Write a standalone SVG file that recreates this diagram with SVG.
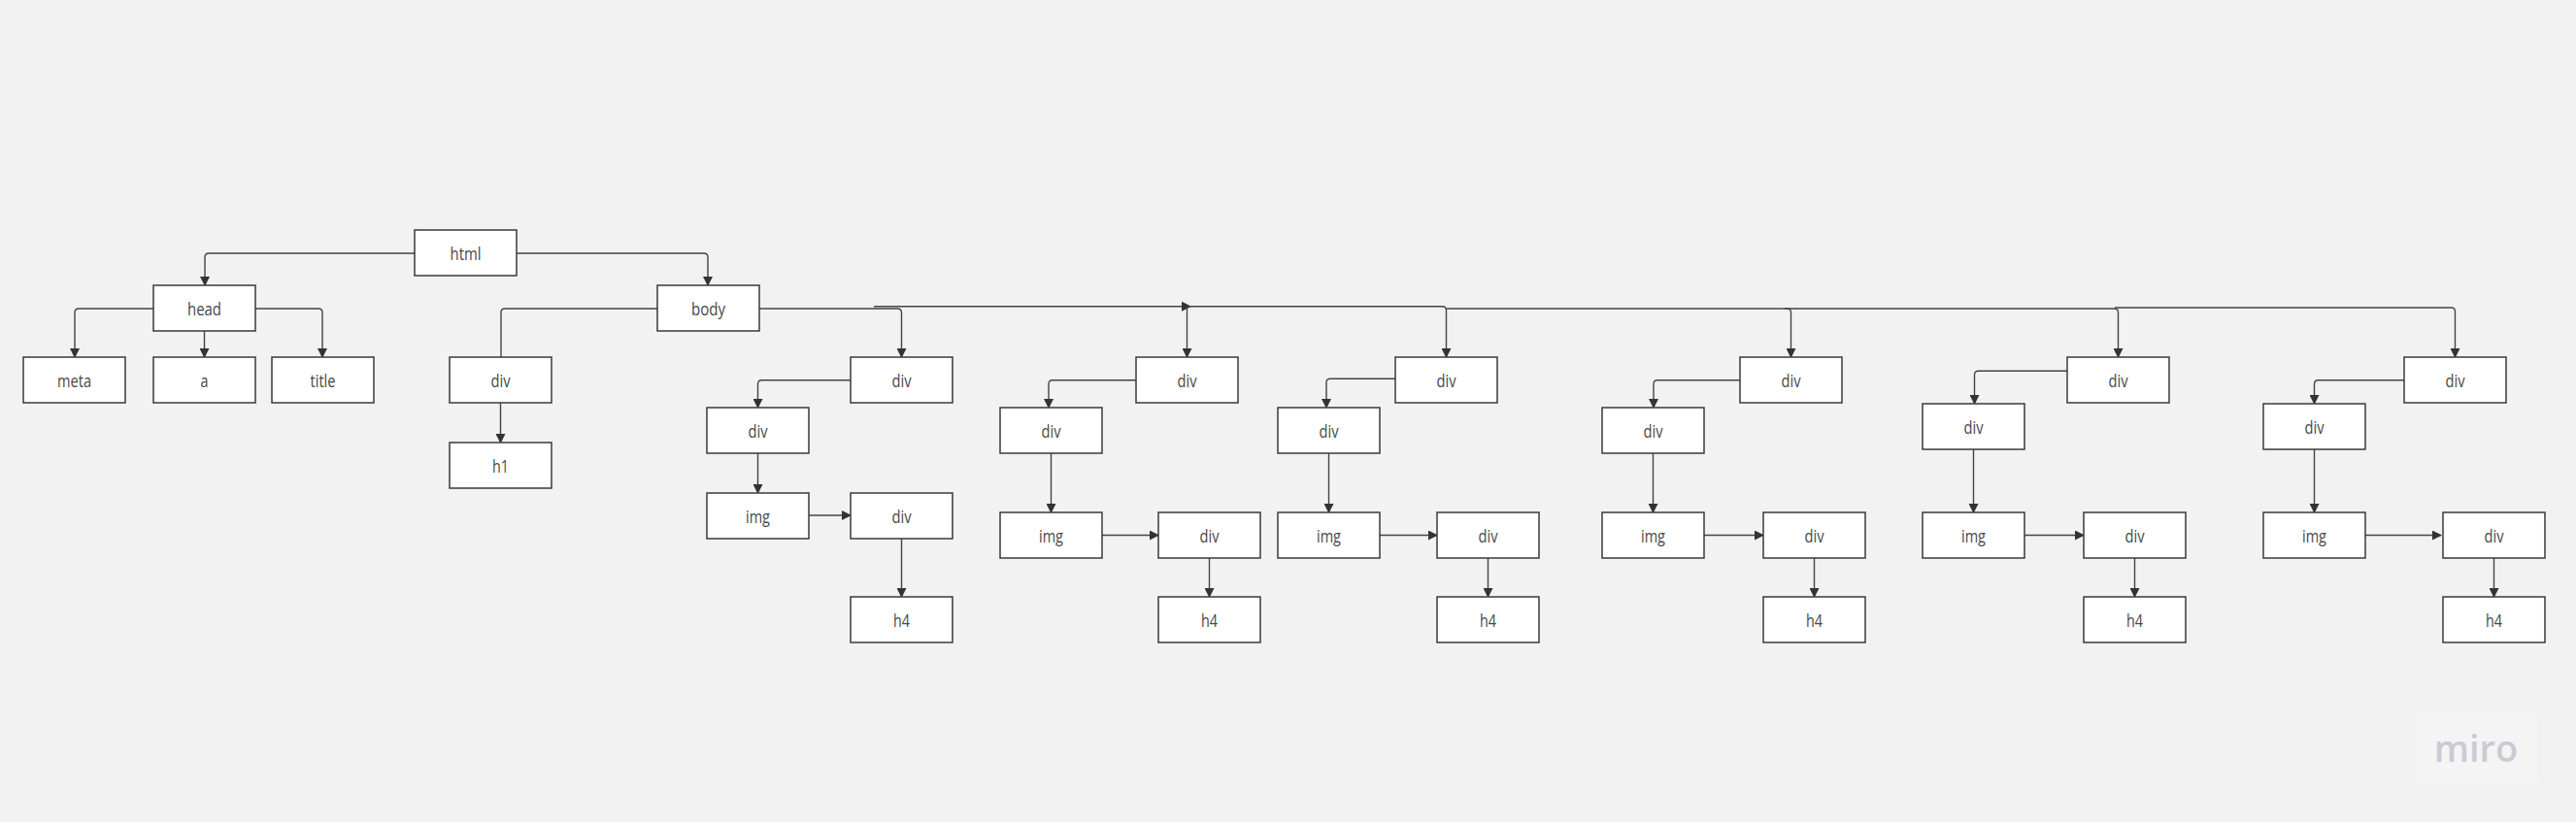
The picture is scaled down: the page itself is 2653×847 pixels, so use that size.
<svg xmlns="http://www.w3.org/2000/svg" width="2653" height="847" viewBox="0 0 2653 847">
<style>
.n rect{fill:#ffffff;stroke:#3a3a3a;stroke-width:1.5}
.n text{font-family:"Open Sans","Liberation Sans",sans-serif;font-size:18px;fill:#484848;text-anchor:middle;dominant-baseline:central}
.c path{fill:none;stroke:#444;stroke-width:1.4}
.c .a{marker-end:url(#arr)}
</style>
<defs>
<marker id="arr" markerUnits="userSpaceOnUse" markerWidth="10" markerHeight="10" viewBox="0 0 10 10" refX="9" refY="5" orient="auto">
<path d="M0,0 L10,5 L0,10 z" fill="#333"/>
</marker>
</defs>
<rect x="0" y="0" width="2653" height="847" fill="#f2f2f2"/>
<g id="connectors" class="c">
<path class="a" d="M427,261 H215 Q211,261 211,265 V294"/>
<path class="a" d="M532,261 H725 Q729,261 729,265 V294"/>
<path class="a" d="M158,318 H81 Q77,318 77,322 V368"/>
<path class="a" d="M210.5,341 V368"/>
<path class="a" d="M263,318 H328 Q332,318 332,322 V368"/>
<path d="M677,318 H520 Q516,318 516,322 V368"/>
<path class="a" d="M515.5,415 V456"/>
<path class="a" d="M782,318 H924 Q928.5,318 928.5,322 V368"/>
<path class="a" d="M900,315.7 H1226"/>
<path class="a" d="M1222.5,316 V368"/>
<path class="a" d="M1225,315.7 H1485.5 Q1489.5,315.7 1489.5,319.7 V368"/>
<path class="a" d="M1490,318 H1840.5 Q1844.5,318 1844.5,322 V368"/>
<path class="a" d="M1838,318 H2177.5 Q2181.5,318 2181.5,322 V368"/>
<path class="a" d="M2178,317 H2524.5 Q2528.5,317 2528.5,321 V368"/>
<path class="a" d="M876,391.7 H784.5 Q780.5,391.7 780.5,395.7 V420"/>
<path class="a" d="M780.5,467 V508"/>
<path class="a" d="M833,531 H876"/>
<path class="a" d="M928.5,555 V615"/>
<path class="a" d="M1170,391.7 H1084 Q1080,391.7 1080,395.7 V420"/>
<path class="a" d="M1082.5,467 V528"/>
<path class="a" d="M1135,551.5 H1193"/>
<path class="a" d="M1245.5,575 V615"/>
<path class="a" d="M1437,390.3 H1370 Q1366,390.3 1366,394.3 V420"/>
<path class="a" d="M1368.5,467 V528"/>
<path class="a" d="M1421,551.5 H1480"/>
<path class="a" d="M1532.5,575 V615"/>
<path class="a" d="M1792,391.7 H1707 Q1703,391.7 1703,395.7 V420"/>
<path class="a" d="M1702.5,467 V528"/>
<path class="a" d="M1755,551.5 H1816"/>
<path class="a" d="M1868.5,575 V615"/>
<path class="a" d="M2131.5,382.3 H2037.5 Q2033.5,382.3 2033.5,386.3 V416"/>
<path class="a" d="M2032.5,463 V528"/>
<path class="a" d="M2085,551.5 H2146"/>
<path class="a" d="M2198.5,575 V615"/>
<path class="a" d="M2477.5,391.7 H2387.5 Q2383.5,391.7 2383.5,395.7 V416"/>
<path class="a" d="M2383.5,463 V528"/>
<path class="a" d="M2436,551.5 H2514"/>
<path class="a" d="M2568.5,575 V615"/>
</g>
<g id="html" class="n"><rect x="427" y="237" width="105" height="47"/><text x="479.5" y="260.5" textLength="32" lengthAdjust="spacingAndGlyphs">html</text></g>
<g id="head" class="n"><rect x="158" y="294" width="105" height="47"/><text x="210.5" y="317.5" textLength="35" lengthAdjust="spacingAndGlyphs">head</text></g>
<g id="body" class="n"><rect x="677" y="294" width="105" height="47"/><text x="729.5" y="317.5" textLength="35" lengthAdjust="spacingAndGlyphs">body</text></g>
<g id="meta" class="n"><rect x="24" y="368" width="105" height="47"/><text x="76.5" y="391.5" textLength="35" lengthAdjust="spacingAndGlyphs">meta</text></g>
<g id="a" class="n"><rect x="158" y="368" width="105" height="47"/><text x="210.5" y="391.5" textLength="8" lengthAdjust="spacingAndGlyphs">a</text></g>
<g id="title" class="n"><rect x="280" y="368" width="105" height="47"/><text x="332.5" y="391.5" textLength="26" lengthAdjust="spacingAndGlyphs">title</text></g>
<g id="div0" class="n"><rect x="463" y="368" width="105" height="47"/><text x="515.5" y="391.5" textLength="20" lengthAdjust="spacingAndGlyphs">div</text></g>
<g id="h1" class="n"><rect x="463" y="456" width="105" height="47"/><text x="515.5" y="479.5" textLength="17" lengthAdjust="spacingAndGlyphs">h1</text></g>

<g id="c1-div" class="n"><rect x="876" y="368" width="105" height="47"/><text x="928.5" y="391.5" textLength="20" lengthAdjust="spacingAndGlyphs">div</text></g>
<g id="c1-diva" class="n"><rect x="728" y="420" width="105" height="47"/><text x="780.5" y="443.5" textLength="20" lengthAdjust="spacingAndGlyphs">div</text></g>
<g id="c1-img" class="n"><rect x="728" y="508" width="105" height="47"/><text x="780.5" y="531.5" textLength="25" lengthAdjust="spacingAndGlyphs">img</text></g>
<g id="c1-divb" class="n"><rect x="876" y="508" width="105" height="47"/><text x="928.5" y="531.5" textLength="20" lengthAdjust="spacingAndGlyphs">div</text></g>
<g id="c1-h4" class="n"><rect x="876" y="615" width="105" height="47"/><text x="928.5" y="638.5" textLength="17" lengthAdjust="spacingAndGlyphs">h4</text></g>

<g id="c2-div" class="n"><rect x="1170" y="368" width="105" height="47"/><text x="1222.5" y="391.5" textLength="20" lengthAdjust="spacingAndGlyphs">div</text></g>
<g id="c2-diva" class="n"><rect x="1030" y="420" width="105" height="47"/><text x="1082.5" y="443.5" textLength="20" lengthAdjust="spacingAndGlyphs">div</text></g>
<g id="c2-img" class="n"><rect x="1030" y="528" width="105" height="47"/><text x="1082.5" y="551.5" textLength="25" lengthAdjust="spacingAndGlyphs">img</text></g>
<g id="c2-divb" class="n"><rect x="1193" y="528" width="105" height="47"/><text x="1245.5" y="551.5" textLength="20" lengthAdjust="spacingAndGlyphs">div</text></g>
<g id="c2-h4" class="n"><rect x="1193" y="615" width="105" height="47"/><text x="1245.5" y="638.5" textLength="17" lengthAdjust="spacingAndGlyphs">h4</text></g>

<g id="c3-div" class="n"><rect x="1437" y="368" width="105" height="47"/><text x="1489.5" y="391.5" textLength="20" lengthAdjust="spacingAndGlyphs">div</text></g>
<g id="c3-diva" class="n"><rect x="1316" y="420" width="105" height="47"/><text x="1368.5" y="443.5" textLength="20" lengthAdjust="spacingAndGlyphs">div</text></g>
<g id="c3-img" class="n"><rect x="1316" y="528" width="105" height="47"/><text x="1368.5" y="551.5" textLength="25" lengthAdjust="spacingAndGlyphs">img</text></g>
<g id="c3-divb" class="n"><rect x="1480" y="528" width="105" height="47"/><text x="1532.5" y="551.5" textLength="20" lengthAdjust="spacingAndGlyphs">div</text></g>
<g id="c3-h4" class="n"><rect x="1480" y="615" width="105" height="47"/><text x="1532.5" y="638.5" textLength="17" lengthAdjust="spacingAndGlyphs">h4</text></g>

<g id="c4-div" class="n"><rect x="1792" y="368" width="105" height="47"/><text x="1844.5" y="391.5" textLength="20" lengthAdjust="spacingAndGlyphs">div</text></g>
<g id="c4-diva" class="n"><rect x="1650" y="420" width="105" height="47"/><text x="1702.5" y="443.5" textLength="20" lengthAdjust="spacingAndGlyphs">div</text></g>
<g id="c4-img" class="n"><rect x="1650" y="528" width="105" height="47"/><text x="1702.5" y="551.5" textLength="25" lengthAdjust="spacingAndGlyphs">img</text></g>
<g id="c4-divb" class="n"><rect x="1816" y="528" width="105" height="47"/><text x="1868.5" y="551.5" textLength="20" lengthAdjust="spacingAndGlyphs">div</text></g>
<g id="c4-h4" class="n"><rect x="1816" y="615" width="105" height="47"/><text x="1868.5" y="638.5" textLength="17" lengthAdjust="spacingAndGlyphs">h4</text></g>

<g id="c5-div" class="n"><rect x="2129" y="368" width="105" height="47"/><text x="2181.5" y="391.5" textLength="20" lengthAdjust="spacingAndGlyphs">div</text></g>
<g id="c5-diva" class="n"><rect x="1980" y="416" width="105" height="47"/><text x="2032.5" y="439.5" textLength="20" lengthAdjust="spacingAndGlyphs">div</text></g>
<g id="c5-img" class="n"><rect x="1980" y="528" width="105" height="47"/><text x="2032.5" y="551.5" textLength="25" lengthAdjust="spacingAndGlyphs">img</text></g>
<g id="c5-divb" class="n"><rect x="2146" y="528" width="105" height="47"/><text x="2198.5" y="551.5" textLength="20" lengthAdjust="spacingAndGlyphs">div</text></g>
<g id="c5-h4" class="n"><rect x="2146" y="615" width="105" height="47"/><text x="2198.5" y="638.5" textLength="17" lengthAdjust="spacingAndGlyphs">h4</text></g>

<g id="c6-div" class="n"><rect x="2476" y="368" width="105" height="47"/><text x="2528.5" y="391.5" textLength="20" lengthAdjust="spacingAndGlyphs">div</text></g>
<g id="c6-diva" class="n"><rect x="2331" y="416" width="105" height="47"/><text x="2383.5" y="439.5" textLength="20" lengthAdjust="spacingAndGlyphs">div</text></g>
<g id="c6-img" class="n"><rect x="2331" y="528" width="105" height="47"/><text x="2383.5" y="551.5" textLength="25" lengthAdjust="spacingAndGlyphs">img</text></g>
<g id="c6-divb" class="n"><rect x="2516" y="528" width="105" height="47"/><text x="2568.5" y="551.5" textLength="20" lengthAdjust="spacingAndGlyphs">div</text></g>
<g id="c6-h4" class="n"><rect x="2516" y="615" width="105" height="47"/><text x="2568.5" y="638.5" textLength="17" lengthAdjust="spacingAndGlyphs">h4</text></g>

<g id="miro-logo">
<rect x="2488" y="740" width="125" height="66" fill="#f4f4f4"/>
<text x="2550" y="785" font-family="'Open Sans','Liberation Sans',sans-serif" font-size="38" font-weight="600" fill="#cacad4" text-anchor="middle">miro</text>
</g>
</svg>
